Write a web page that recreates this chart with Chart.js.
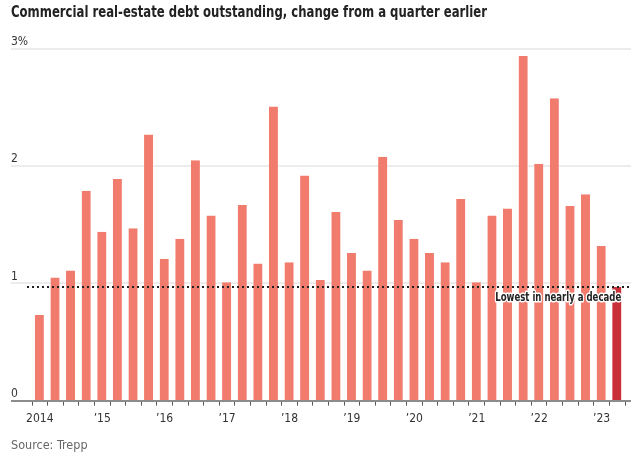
<!DOCTYPE html>
<html>
<head>
<meta charset="utf-8">
<script src="https://cdn.jsdelivr.net/npm/chart.js@4/dist/chart.umd.min.js"></script>
<style>
  html, body { margin: 0; padding: 0; background: #fff; }
</style>
</head>
<body>
<canvas id="chart" width="640" height="462"></canvas>
<script>
// Data: quarterly change in commercial real-estate debt, %
const years = [2014, 2015, 2016, 2017, 2018, 2019, 2020, 2021, 2022, 2023];
const yearLabels = ['2014', '\u201915', '\u201916', '\u201917', '\u201918', '\u201919', '\u201920', '\u201921', '\u201922', '\u201923'];
const changePct = [
  0.73, 1.05, 1.11, 1.79,   // 2014
  1.44, 1.89, 1.47, 2.27,   // 2015
  1.21, 1.38, 2.05, 1.58,   // 2016
  1.01, 1.67, 1.17, 2.51,   // 2017
  1.18, 1.92, 1.03, 1.61,   // 2018
  1.26, 1.11, 2.08, 1.54,   // 2019
  1.38, 1.26, 1.18, 1.72,   // 2020
  1.01, 1.58, 1.64, 2.94,   // 2021
  2.02, 2.58, 1.66, 1.76,   // 2022
  1.32, 0.97                // 2023
];
const yTicks = [0, 1, 2, 3];
const lowestValue = 0.97;
const lowestLabel = 'Lowest in nearly a decade';
const titleText = 'Commercial real-estate debt outstanding, change from a quarter earlier';

const quarters = [];
years.forEach((yr) => {
  for (let q = 1; q <= 4; q++) {
    if (quarters.length < changePct.length) quarters.push(yr + ' Q' + q);
  }
});

const FONT = '"Liberation Sans Narrow", "DejaVu Sans Condensed", Lato, sans-serif';
const barColor = '#f17b6d';
const lastColor = '#c82f37';

// Title, gridlines, baseline and the "lowest" marker
const decorPlugin = {
  id: 'decor',
  beforeDatasetsDraw(chart) {
    const { ctx, scales: { y } } = chart;
    ctx.save();
    // title, squeezed to the width of the narrow original face
    ctx.font = 'bold 15px ' + FONT;
    ctx.fillStyle = '#222';
    ctx.textAlign = 'left';
    ctx.textBaseline = 'middle';
    ctx.fillText(titleText, 11, 13, 476);

    ctx.strokeStyle = '#ececec';
    ctx.lineWidth = 2;
    yTicks.forEach((t) => {
      if (t === 0) return;
      const py = Math.round(y.getPixelForValue(t));
      ctx.beginPath();
      ctx.moveTo(11, py);
      ctx.lineTo(631, py);
      ctx.stroke();
    });
    ctx.restore();
  },
  afterDatasetsDraw(chart) {
    const { ctx, scales: { y } } = chart;
    ctx.save();
    // baseline
    const py0 = Math.round(y.getPixelForValue(0));
    ctx.strokeStyle = '#8c8c8c';
    ctx.lineWidth = 2;
    ctx.beginPath();
    ctx.moveTo(11, py0);
    ctx.lineTo(631, py0);
    ctx.stroke();

    // dotted reference line at the latest value
    const py = Math.round(y.getPixelForValue(lowestValue));
    ctx.strokeStyle = '#222';
    ctx.lineWidth = 2;
    ctx.setLineDash([2, 3]);
    ctx.beginPath();
    ctx.moveTo(27, py);
    ctx.lineTo(632, py);
    ctx.stroke();
    ctx.setLineDash([]);

    // label with white halo, right-aligned to last bar
    const meta = chart.getDatasetMeta(0);
    const last = meta.data[meta.data.length - 1];
    const tx = last.x + last.width / 2 - 1;
    ctx.font = 'bold 12.5px ' + FONT;
    ctx.textAlign = 'right';
    ctx.textBaseline = 'middle';
    ctx.lineJoin = 'round';
    ctx.strokeStyle = '#fff';
    ctx.lineWidth = 3;
    ctx.strokeText(lowestLabel, tx, py + 11, 126);
    ctx.fillStyle = '#222';
    ctx.fillText(lowestLabel, tx, py + 11, 126);
    ctx.restore();
  }
};

const ctx = document.getElementById('chart').getContext('2d');
const chart = new Chart(ctx, {
  type: 'bar',
  data: {
    labels: quarters,
    datasets: [{
      data: changePct,
      backgroundColor: changePct.map((v, i) => i === changePct.length - 1 ? lastColor : barColor),
      borderColor: 'rgba(255,255,255,0.35)',
      borderWidth: { left: 0, right: 1, top: 0, bottom: 0 },
      borderSkipped: false,
      barPercentage: 0.64,
      categoryPercentage: 1
    }]
  },
  options: {
    responsive: false,
    animation: false,
    devicePixelRatio: 1,
    layout: { padding: { left: 11, right: 15, top: 49, bottom: 0 } },
    plugins: {
      legend: { display: false },
      tooltip: { enabled: false },
      subtitle: {
        display: true,
        position: 'bottom',
        text: 'Source: Trepp',
        align: 'start',
        color: '#666',
        font: { family: FONT, size: 12.5 },
        padding: { top: 6, bottom: 9 }
      }
    },
    scales: {
      x: {
        offset: true,
        border: { display: false },
        grid: { drawOnChartArea: false, drawTicks: true, tickLength: 5, color: '#555', lineWidth: 1 },
        ticks: {
          autoSkip: false,
          maxRotation: 0,
          padding: 6,
          color: '#333',
          font: { family: FONT, size: 12 },
          callback: (v, i) => (i % 4 === 0 ? yearLabels[i / 4] : '')
        }
      },
      y: {
        min: 0,
        max: 3,
        afterFit: (s) => { s.width = 21; },
        border: { display: false },
        grid: { display: false },
        ticks: {
          stepSize: 1,
          crossAlign: 'far',
          padding: 0,
          labelOffset: -7,
          color: '#333',
          font: { family: FONT, size: 12 },
          callback: (v) => (v === 3 ? '3%' : String(v))
        }
      }
    }
  },
  plugins: [decorPlugin]
});
</script>
</body>
</html>
